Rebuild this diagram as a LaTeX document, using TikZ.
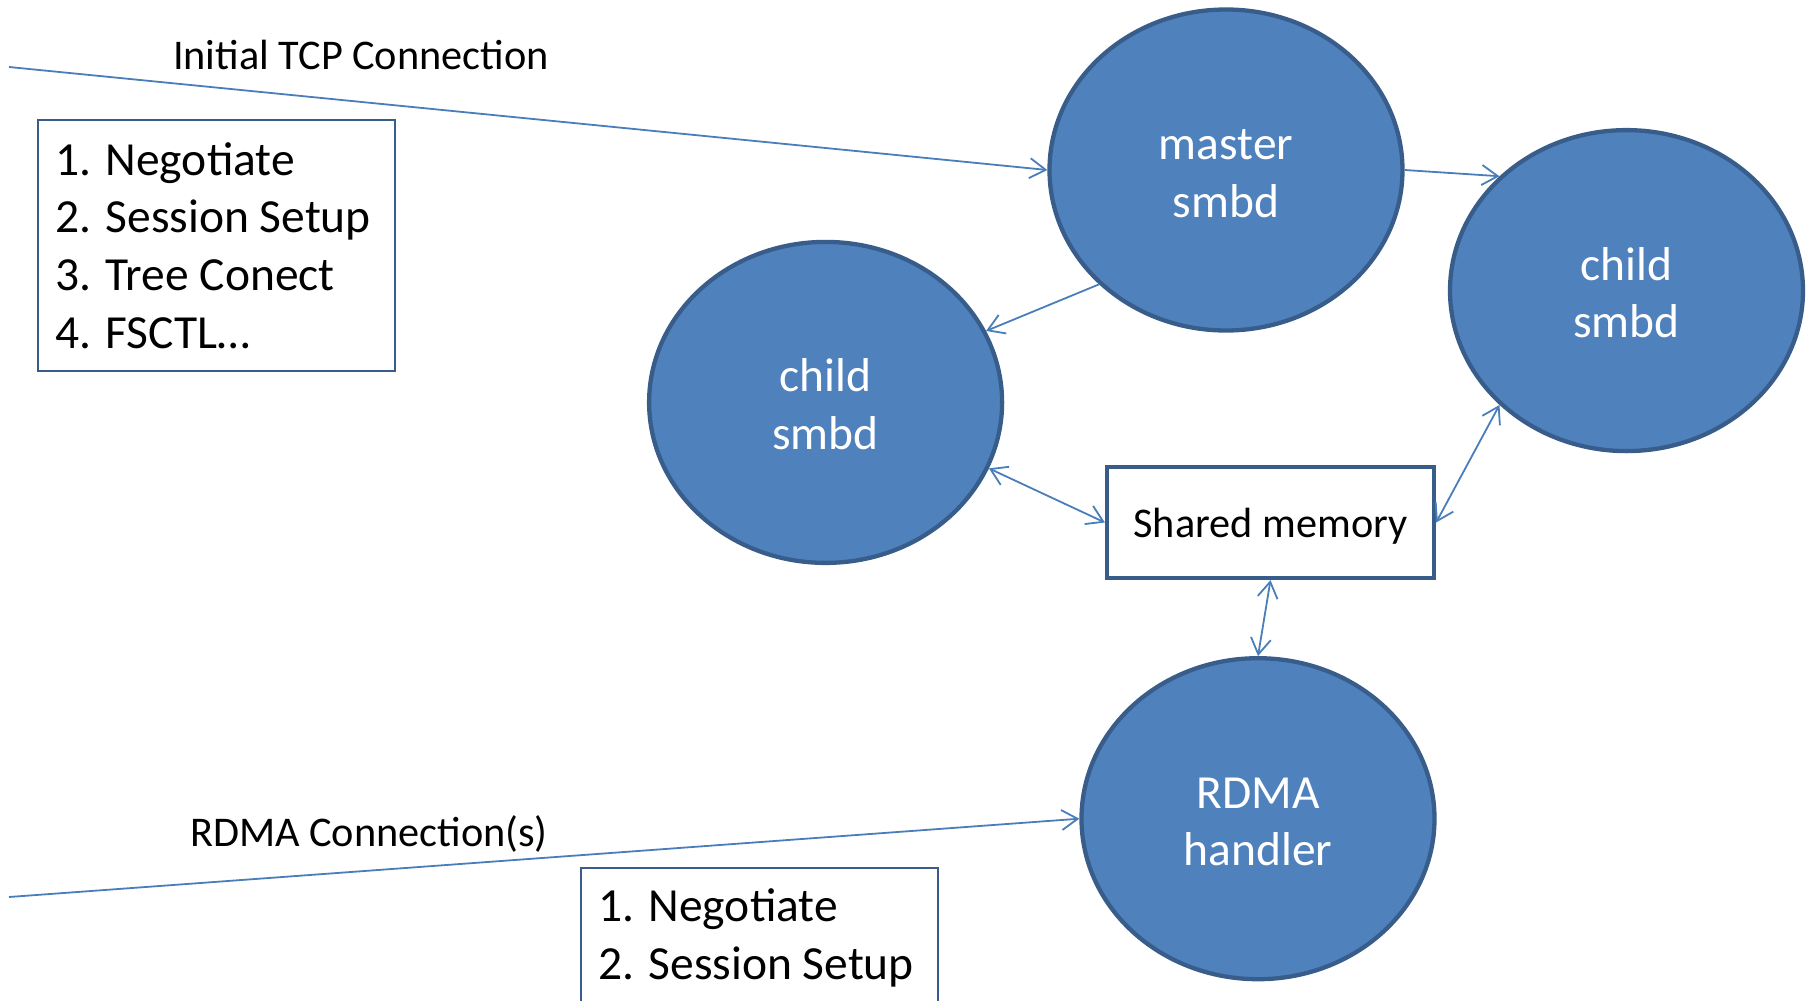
\documentclass[tikz,border=0pt]{standalone}
\usepackage{fontspec}
\setmainfont{Carlito}
\usetikzlibrary{shapes.geometric,arrows.meta}

\definecolor{procfill}{HTML}{4F81BD}
\definecolor{procline}{HTML}{385D8A}
\definecolor{linkcol}{HTML}{4A7EBB}

% fixed top line height so every process label sits alike
\newcommand{\proctop}{\rule{0pt}{37pt}}

\tikzset{
  proc/.style={ellipse, draw=procline, line width=4.3pt, fill=procfill,
    minimum width=353pt, minimum height=321pt, inner sep=0pt,
    align=center, text=white, font=\fontsize{47.5}{57.7}\selectfont},
  listbox/.style={draw=procline, line width=2pt, minimum width=357pt,
    minimum height=251pt, inner sep=0pt, anchor=north west},
  listtext/.style={inner sep=0pt, align=left, text=black,
    font=\fontsize{47.5}{57.7}\selectfont},
  memory/.style={draw=procline, line width=4.2pt, fill=white,
    minimum width=327pt, minimum height=111pt, inner sep=0pt,
    text depth=0pt, font=\fontsize{42.3}{50}\selectfont},
  caption/.style={inner sep=0pt, font=\fontsize{42.3}{50}\selectfont},
  link/.style={draw=linkcol, line width=1.8pt, -{Straight Barb[length=16pt,width=20pt]}},
  duplex/.style={draw=linkcol, line width=1.8pt,
    {Straight Barb[length=16pt,width=20pt]}-{Straight Barb[length=16pt,width=20pt]}}
}

\begin{document}
\begin{tikzpicture}[x=1pt,y=-1pt]
  \useasboundingbox (0,0) rectangle (1808,1001);
  \clip (0,0) rectangle (1808,1001);

  % processes
  \node[proc] (master) at (1226,170) {\proctop master\\smbd};
  \node[proc] (childL) at (825.6,402.4) {\proctop child\\smbd};
  \node[proc] (childR) at (1626.5,290.6) {\proctop child\\smbd};
  \node[proc] (rdma) at (1258,818.7) {\proctop RDMA\\handler};

  % shared memory segment
  \node[memory] (shm) at (1270.5,522.5) {Shared memory};

  % step lists
  \node[listbox] (box1) at (37,119) {};
  \node[listtext, anchor=west] (steps1) at ([xshift=18pt]box1.west)
    {1. Negotiate\\2. Session Setup\\3. Tree Conect\\4. FSCTL…};
  \node[listbox] (box2) at (580,867) {};
  \node[listtext, anchor=north west] (steps2) at ([xshift=18pt,yshift=-21.7pt]box2.north west)
    {1. Negotiate\\2. Session Setup};

  % incoming connections
  \coordinate (tcpin) at (9,67);
  \coordinate (rdmain) at (9,897);
  \node[caption] (tcplabel) at (361,55) {Initial TCP Connection};
  \node[caption] (rdmalabel) at (369,834) {RDMA Connection(s)};

  \draw[link] (tcpin) -- (master.west);
  \draw[link] (rdmain) -- (rdma.west);

  % links between processes
  \draw[link] (master.east) -- (childR.138);
  \draw[link] (master.222) -- (childL.24);
  \draw[duplex] (childL.-22) -- (shm.west);
  \draw[duplex] (shm.east) -- (childR.222);
  \draw[duplex] (shm.south) -- (rdma.north);
\end{tikzpicture}
\end{document}
